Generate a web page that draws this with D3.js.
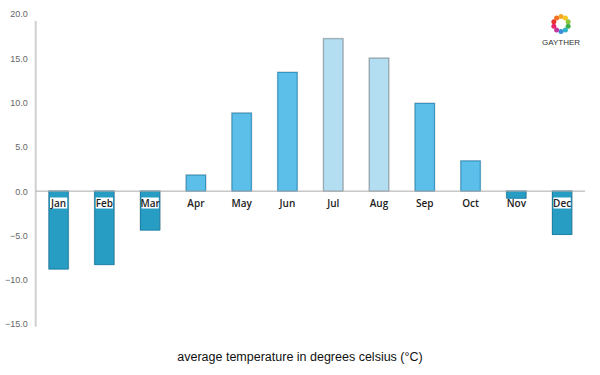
<!DOCTYPE html>
<html lang="en">
<head>
<meta charset="utf-8">
<title>Average temperature</title>
<style>
    body { margin: 0; background: #fff; }
    .tick text { font-family: "Liberation Sans", Arial, sans-serif; font-size: 9px; fill: #666; }
    .month { font-family: "Open Sans", sans-serif; font-size: 10px; font-weight: 600; fill: #222; }
</style>
<script src="https://d3js.org/d3.v7.min.js"></script>
</head>
<body>
<script>
const months = ["Jan", "Feb", "Mar", "Apr", "May", "Jun", "Jul", "Aug", "Sep", "Oct", "Nov", "Dec"];
const temps = [-8.8, -8.3, -4.4, 1.8, 8.8, 13.4, 17.2, 15.0, 9.9, 3.4, -0.8, -4.9];
const yTicks = [20, 15, 10, 5, 0, -5, -10, -15];
const hotMonths = ["Jul", "Aug"];

const width = 600, height = 375;
const svg = d3.select("body").append("svg")
    .attr("width", width)
    .attr("height", height);

const x = d3.scaleBand().domain(months).range([35.7, 585]).paddingInner(0.58).paddingOuter(0.29);
const y = d3.scaleLinear().domain([-15, 20]).range([324, 14]);

// y axis
const yAxis = svg.append("g")
    .attr("transform", "translate(35.7,0)")
    .call(d3.axisLeft(y).tickValues(yTicks).tickFormat(d3.format(".1f")).tickSize(0).tickPadding(8));
yAxis.select(".domain").attr("stroke", "#d0d0d0").attr("stroke-width", 2)
    .attr("d", `M0,${y(19.2)}V${y(-15.3)}`);

function fillOf(m, v) {
    if (v < 0) return "#279dc4";
    if (hotMonths.includes(m)) return "#b3def2";
    return "#5bbfe9";
}
function strokeOf(m, v) {
    if (v < 0) return "#1d82a8";
    if (hotMonths.includes(m)) return "#8fa7b3";
    return "#2f93c0";
}

const data = months.map((m, i) => ({ m, v: temps[i] }));

// faint shadow
svg.selectAll("rect.shadow").data(data).enter().append("rect")
    .attr("class", "shadow")
    .attr("x", d => x(d.m) - 1)
    .attr("y", d => Math.min(y(d.v), y(0)) - 1)
    .attr("width", x.bandwidth() + 2)
    .attr("height", d => Math.abs(y(d.v) - y(0)) + 1)
    .attr("fill", "#ccc");

svg.selectAll("rect.bar").data(data).enter().append("rect")
    .attr("class", "bar")
    .attr("x", d => x(d.m))
    .attr("y", d => Math.min(y(d.v), y(0)))
    .attr("width", x.bandwidth())
    .attr("height", d => Math.abs(y(d.v) - y(0)))
    .attr("fill", d => fillOf(d.m, d.v))
    .attr("stroke", d => strokeOf(d.m, d.v))
    .attr("stroke-width", 1);

// zero line
svg.append("line")
    .attr("x1", 35.7).attr("x2", 585)
    .attr("y1", y(0)).attr("y2", y(0))
    .attr("stroke", "#aaa").attr("stroke-width", 1);

// month labels with white boxes
const lab = svg.selectAll("g.lab").data(data).enter().append("g")
    .attr("class", "lab")
    .attr("transform", d => `translate(${x(d.m) + x.bandwidth() / 2},206.5)`);
lab.filter(d => d.v < -1.5).append("rect")
    .attr("x", -x.bandwidth() / 2 + 1).attr("y", -9)
    .attr("width", x.bandwidth() - 2).attr("height", 11)
    .attr("fill", "#fff");
lab.append("text")
    .attr("class", "month")
    .attr("text-anchor", "middle")
    .text(d => d.m);

// caption
svg.append("text")
    .attr("x", 300).attr("y", 361)
    .attr("text-anchor", "middle")
    .style("font-family", "'Liberation Sans', Arial, sans-serif")
    .style("font-size", "12.5px")
    .style("fill", "#111")
    .text("average temperature in degrees celsius (°C)");

// logo
const logo = svg.append("g").attr("transform", "translate(561,24)");
const logoColors = ["#f5a623", "#f7c51e", "#8cc63f", "#3fae49", "#2bb5c7", "#3a8fd6", "#c0399f", "#e8256b", "#e8302f", "#f36f21"];
logo.selectAll("circle").data(logoColors).enter().append("circle")
    .attr("cx", (d, i) => 7.5 * Math.cos(i / logoColors.length * 2 * Math.PI - Math.PI / 2))
    .attr("cy", (d, i) => 7.5 * Math.sin(i / logoColors.length * 2 * Math.PI - Math.PI / 2))
    .attr("r", 2.5)
    .attr("fill", d => d);
svg.append("text")
    .attr("x", 561).attr("y", 44.5)
    .attr("text-anchor", "middle")
    .style("font-family", "'Liberation Sans', Arial, sans-serif")
    .style("font-size", "8px")
    .style("fill", "#333")
    .text("GAYTHER");
</script>
</body>
</html>
